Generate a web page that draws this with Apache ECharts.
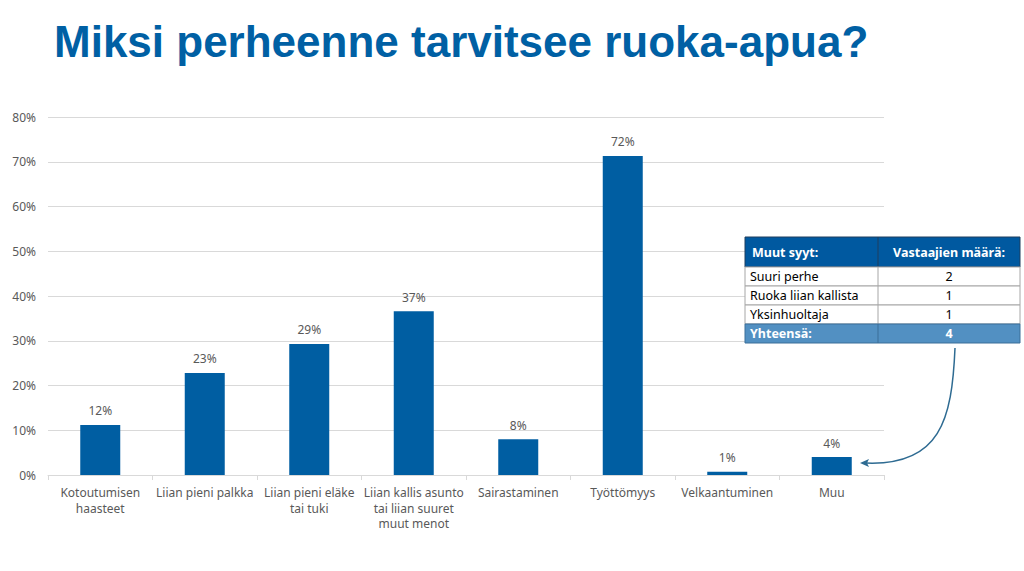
<!DOCTYPE html>
<html>
<head>
<meta charset="utf-8">
<script src="https://cdn.jsdelivr.net/npm/echarts@6/dist/echarts.min.js"></script>
<style>
  html, body { margin: 0; padding: 0; background: #fff; }
  #chart { width: 1024px; height: 571px; }
</style>
</head>
<body>
<div id="chart"></div>
<script>
// Kategoriat ja arvot (luettu kuvasta)
const categories = [
  'Kotoutumisen\nhaasteet',
  'Liian pieni palkka',
  'Liian pieni eläke\ntai tuki',
  'Liian kallis asunto\ntai liian suuret\nmuut menot',
  'Sairastaminen',
  'Työttömyys',
  'Velkaantuminen',
  'Muu'
];
const values = [11.2, 22.8, 29.3, 36.6, 8.0, 71.3, 0.7, 4.0];
const valueLabels = ['12%', '23%', '29%', '37%', '8%', '72%', '1%', '4%'];

// Muut syyt -taulukko
const tableHeader = ['Muut syyt:', 'Vastaajien määrä:'];
const tableRows = [
  ['Suuri perhe', 2],
  ['Ruoka liian kallista', 1],
  ['Yksinhuoltaja', 1]
];
const tableTotal = ['Yhteensä:', 4];

const BLUE = '#005ea2';
const GREY = '#595959';

// taulukon grafiikka
const tx = 745, tw = 275, col = 133, hh = 30, rh = 19;
const graphic = [];
graphic.push({ type: 'rect', shape: { x: tx, y: 237, width: tw, height: hh },
  style: { fill: '#0059a0', stroke: '#1f3f5f', lineWidth: 1 } });
graphic.push({ type: 'line', shape: { x1: tx + col, y1: 237, x2: tx + col, y2: 237 + hh },
  style: { stroke: '#1f3f5f', lineWidth: 1 } });
graphic.push({ type: 'text', x: tx + 7, y: 237 + hh / 2,
  style: { text: tableHeader[0], fill: '#fff', font: 'bold 12.5px "Noto Sans"', verticalAlign: 'middle' } });
graphic.push({ type: 'text', x: tx + col + (tw - col) / 2, y: 237 + hh / 2,
  style: { text: tableHeader[1], fill: '#fff', font: 'bold 12.5px "Noto Sans"', align: 'center', verticalAlign: 'middle' } });
tableRows.forEach((r, i) => {
  const y = 237 + hh + i * rh;
  graphic.push({ type: 'rect', shape: { x: tx, y: y, width: tw, height: rh },
    style: { fill: '#fff', stroke: '#a6a6a6', lineWidth: 1 } });
  graphic.push({ type: 'line', shape: { x1: tx + col, y1: y, x2: tx + col, y2: y + rh },
    style: { stroke: '#a6a6a6', lineWidth: 1 } });
  graphic.push({ type: 'text', x: tx + 5, y: y + rh / 2,
    style: { text: r[0], fill: '#000', font: '12.5px "Noto Sans"', verticalAlign: 'middle' } });
  graphic.push({ type: 'text', x: tx + col + (tw - col) / 2, y: y + rh / 2,
    style: { text: String(r[1]), fill: '#000', font: '12.5px "Noto Sans"', align: 'center', verticalAlign: 'middle' } });
});
const ty = 237 + hh + tableRows.length * rh;
graphic.push({ type: 'rect', shape: { x: tx, y: ty, width: tw, height: rh },
  style: { fill: '#5290c2', stroke: '#3a6f99', lineWidth: 1 } });
graphic.push({ type: 'line', shape: { x1: tx + col, y1: ty, x2: tx + col, y2: ty + rh },
  style: { stroke: '#3a6f99', lineWidth: 1 } });
graphic.push({ type: 'text', x: tx + 5, y: ty + rh / 2,
  style: { text: tableTotal[0], fill: '#fff', font: 'bold 12.5px "Noto Sans"', verticalAlign: 'middle' } });
graphic.push({ type: 'text', x: tx + col + (tw - col) / 2, y: ty + rh / 2,
  style: { text: String(tableTotal[1]), fill: '#fff', font: 'bold 12.5px "Noto Sans"', align: 'center', verticalAlign: 'middle' } });

// nuoli taulukosta Muu-pylvääseen
graphic.push({ type: 'bezierCurve',
  shape: { x1: 955, y1: 348, cpx1: 952, cpy1: 420, cpx2: 940, cpy2: 466, x2: 866, y2: 463 },
  style: { stroke: '#2e6b92', lineWidth: 1.5, fill: null } });
graphic.push({ type: 'polygon',
  shape: { points: [[860, 463], [869, 459], [867, 463], [869, 467]] },
  style: { fill: '#2e6b92' } });

// taulukko ruudukkoviivojen päälle
graphic.forEach(g => { g.z = 100; });

const chart = echarts.init(document.getElementById('chart'), null, { renderer: 'svg' });
chart.setOption({
  title: {
    text: 'Miksi perheenne tarvitsee ruoka-apua?',
    left: 49, top: 14,
    textStyle: { color: '#0060a4', fontSize: 44, fontWeight: 'bold', fontFamily: 'Liberation Sans' }
  },
  grid: { left: 48, right: 140, top: 117, bottom: 96, containLabel: false },
  xAxis: {
    type: 'category',
    data: categories,
    axisLine: { lineStyle: { color: '#d9d9d9' } },
    axisTick: { show: true, length: 5, lineStyle: { color: '#d9d9d9' } },
    axisLabel: { color: GREY, fontSize: 12, fontFamily: 'Noto Sans', lineHeight: 15.5, margin: 10, interval: 0 }
  },
  yAxis: {
    type: 'value',
    min: 0, max: 80, interval: 10,
    axisLine: { show: false },
    axisTick: { show: false },
    splitLine: { lineStyle: { color: '#d9d9d9' } },
    axisLabel: { color: GREY, fontSize: 12, fontFamily: 'Noto Sans', formatter: '{value}%', margin: 12 }
  },
  series: [{
    type: 'bar',
    data: values,
    barWidth: 40,
    itemStyle: { color: BLUE },
    label: {
      show: true, position: 'top', distance: 8,
      color: GREY, fontSize: 12, fontFamily: 'Noto Sans',
      formatter: p => valueLabels[p.dataIndex]
    }
  }],
  graphic: graphic
});
</script>
</body>
</html>
